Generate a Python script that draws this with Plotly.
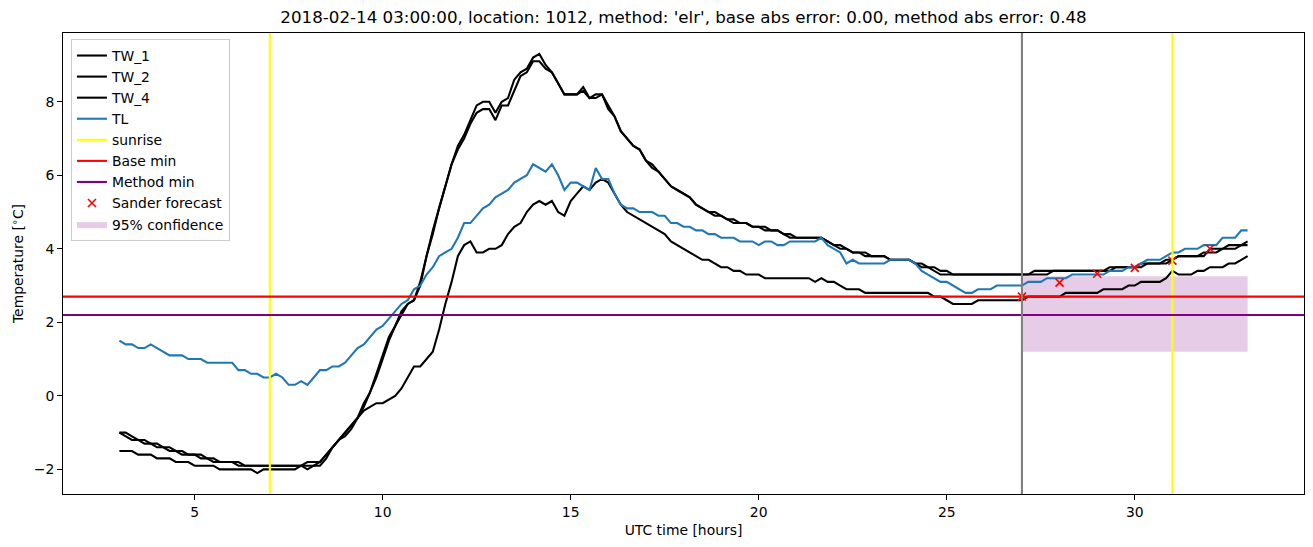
import numpy as np
import plotly.graph_objects as go

# ---------------- data (10-minute samples from 03:00 to 33:00 UTC hours) ----------------
start_hour = 3
end_hour = 33
steps_per_hour = 6
times = [start_hour + i / steps_per_hour for i in range((end_hour - start_hour) * steps_per_hour + 1)]

tw_1 = [
    -1.0, -1.1, -1.2, -1.2, -1.3, -1.3,   # 3
    -1.4, -1.4, -1.5, -1.5, -1.6, -1.6,   # 4
    -1.6, -1.7, -1.7, -1.8, -1.8, -1.8,   # 5
    -1.8, -1.9, -1.9, -1.9, -1.9, -1.9,   # 6
    -1.9, -1.9, -1.9, -1.9, -1.9, -1.9,   # 7
    -1.9, -1.9, -1.8, -1.6, -1.4, -1.2,   # 8
    -1.1, -0.9, -0.6, -0.3, 0.1, 0.5,     # 9
    1.0, 1.5, 1.9, 2.2, 2.5, 2.6,         # 10
    3.0, 3.8, 4.4, 5.1, 5.7, 6.3,         # 11
    6.8, 7.1, 7.5, 7.9, 8.0, 8.0,         # 12
    7.7, 8.0, 8.1, 8.6, 8.8, 8.9,         # 13
    9.2, 9.3, 9.0, 8.8, 8.5, 8.2,         # 14
    8.2, 8.2, 8.4, 8.1, 8.1, 8.2,         # 15
    7.9, 7.6, 7.2, 7.0, 6.8, 6.7,         # 16
    6.4, 6.3, 6.1, 5.9, 5.7, 5.6,         # 17
    5.5, 5.4, 5.2, 5.1, 5.0, 5.0,         # 18
    4.9, 4.8, 4.8, 4.7, 4.7, 4.6,         # 19
    4.6, 4.6, 4.5, 4.5, 4.4, 4.4,         # 20
    4.3, 4.3, 4.3, 4.3, 4.3, 4.2,         # 21
    4.1, 4.1, 4.0, 3.9, 3.9, 3.9,         # 22
    3.8, 3.8, 3.8, 3.7, 3.7, 3.7,         # 23
    3.7, 3.6, 3.6, 3.5, 3.5, 3.4,         # 24
    3.4, 3.3, 3.3, 3.3, 3.3, 3.3,         # 25
    3.3, 3.3, 3.3, 3.3, 3.3, 3.3,         # 26
    3.3, 3.3, 3.4, 3.4, 3.4, 3.4,         # 27
    3.4, 3.4, 3.4, 3.4, 3.4, 3.4,         # 28
    3.4, 3.4, 3.4, 3.5, 3.5, 3.5,         # 29
    3.5, 3.5, 3.6, 3.6, 3.6, 3.6,         # 30
    3.7, 3.8, 3.8, 3.8, 3.8, 3.8,         # 31
    4.0, 4.0, 4.0, 4.1, 4.1, 4.1,         # 32
    4.2,                                  # 33
]

tw_2 = [
    -1.0, -1.0, -1.1, -1.2, -1.2, -1.3,   # 3
    -1.3, -1.4, -1.4, -1.5, -1.5, -1.6,   # 4
    -1.6, -1.6, -1.7, -1.7, -1.8, -1.8,   # 5
    -1.8, -1.8, -1.9, -1.9, -1.9, -1.9,   # 6
    -1.9, -1.9, -1.9, -1.9, -1.9, -1.9,   # 7
    -1.8, -1.8, -1.8, -1.6, -1.4, -1.2,   # 8
    -1.0, -0.8, -0.6, -0.2, 0.1, 0.6,     # 9
    1.1, 1.6, 1.9, 2.3, 2.5, 2.6,         # 10
    3.1, 3.8, 4.5, 5.1, 5.7, 6.3,         # 11
    6.7, 7.0, 7.4, 7.7, 7.8, 7.8,         # 12
    7.5, 7.9, 7.9, 8.3, 8.7, 8.8,         # 13
    9.1, 9.1, 8.9, 8.8, 8.5, 8.2,         # 14
    8.2, 8.2, 8.3, 8.1, 8.2, 8.2,         # 15
    7.8, 7.6, 7.2, 7.0, 6.8, 6.7,         # 16
    6.4, 6.2, 6.1, 5.9, 5.7, 5.6,         # 17
    5.5, 5.4, 5.2, 5.1, 5.0, 4.9,         # 18
    4.9, 4.8, 4.7, 4.7, 4.7, 4.6,         # 19
    4.6, 4.5, 4.5, 4.5, 4.4, 4.3,         # 20
    4.3, 4.3, 4.3, 4.3, 4.3, 4.2,         # 21
    4.1, 4.0, 4.0, 3.9, 3.9, 3.8,         # 22
    3.8, 3.8, 3.8, 3.7, 3.7, 3.7,         # 23
    3.7, 3.6, 3.5, 3.5, 3.4, 3.3,         # 24
    3.3, 3.3, 3.3, 3.3, 3.3, 3.3,         # 25
    3.3, 3.3, 3.3, 3.3, 3.3, 3.3,         # 26
    3.3, 3.3, 3.3, 3.3, 3.3, 3.4,         # 27
    3.4, 3.4, 3.4, 3.4, 3.4, 3.4,         # 28
    3.4, 3.4, 3.5, 3.5, 3.5, 3.5,         # 29
    3.5, 3.6, 3.6, 3.6, 3.6, 3.7,         # 30
    3.7, 3.8, 3.8, 3.8, 3.8, 3.9,         # 31
    3.9, 3.9, 4.0, 4.0, 4.0, 4.1,         # 32
    4.1,                                  # 33
]

tw_4 = [
    -1.5, -1.5, -1.5, -1.6, -1.6, -1.6,   # 3
    -1.7, -1.7, -1.7, -1.8, -1.8, -1.8,   # 4
    -1.9, -1.9, -1.9, -1.9, -2.0, -2.0,   # 5
    -2.0, -2.0, -2.0, -2.0, -2.1, -2.0,   # 6
    -2.0, -2.0, -2.0, -2.0, -2.0, -1.9,   # 7
    -2.0, -1.9, -1.9, -1.7, -1.4, -1.2,   # 8
    -1.0, -0.8, -0.6, -0.4, -0.3, -0.2,   # 9
    -0.2, -0.1, 0.0, 0.2, 0.5, 0.8,       # 10
    0.8, 1.0, 1.2, 1.8, 2.5, 3.1,         # 11
    3.8, 4.1, 4.2, 3.9, 3.9, 4.0,         # 12
    4.0, 4.1, 4.4, 4.6, 4.7, 5.0,         # 13
    5.2, 5.3, 5.2, 5.3, 5.0, 4.9,         # 14
    5.3, 5.5, 5.7, 5.6, 5.8, 5.9,         # 15
    5.8, 5.5, 5.2, 5.0, 4.9, 4.8,         # 16
    4.7, 4.6, 4.5, 4.4, 4.2, 4.1,         # 17
    4.0, 3.9, 3.8, 3.7, 3.7, 3.6,         # 18
    3.5, 3.5, 3.4, 3.4, 3.3, 3.3,         # 19
    3.3, 3.2, 3.2, 3.2, 3.2, 3.2,         # 20
    3.2, 3.2, 3.2, 3.1, 3.2, 3.1,         # 21
    3.1, 3.0, 2.9, 2.9, 2.9, 2.8,         # 22
    2.8, 2.8, 2.8, 2.8, 2.8, 2.8,         # 23
    2.8, 2.8, 2.8, 2.8, 2.7, 2.7,         # 24
    2.6, 2.5, 2.5, 2.5, 2.5, 2.6,         # 25
    2.6, 2.6, 2.6, 2.6, 2.6, 2.6,         # 26
    2.6, 2.7, 2.7, 2.7, 2.7, 2.7,         # 27
    2.7, 2.8, 2.8, 2.8, 2.8, 2.8,         # 28
    2.8, 2.9, 2.9, 2.9, 2.9, 3.0,         # 29
    3.0, 3.1, 3.1, 3.1, 3.1, 3.2,         # 30
    3.4, 3.3, 3.3, 3.3, 3.4, 3.4,         # 31
    3.5, 3.5, 3.5, 3.6, 3.6, 3.7,         # 32
    3.8,                                  # 33
]

tl = [
    1.5, 1.4, 1.4, 1.3, 1.3, 1.4,         # 3
    1.3, 1.2, 1.1, 1.1, 1.1, 1.0,         # 4
    1.0, 1.0, 0.9, 0.9, 0.9, 0.9,         # 5
    0.9, 0.7, 0.7, 0.6, 0.6, 0.5,         # 6
    0.5, 0.6, 0.5, 0.3, 0.3, 0.4,         # 7
    0.3, 0.5, 0.7, 0.7, 0.8, 0.8,         # 8
    0.9, 1.1, 1.3, 1.4, 1.6, 1.8,         # 9
    1.9, 2.1, 2.3, 2.5, 2.6, 2.9,         # 10
    3.0, 3.3, 3.5, 3.8, 3.9, 4.0,         # 11
    4.3, 4.7, 4.7, 4.9, 5.1, 5.2,         # 12
    5.4, 5.5, 5.6, 5.8, 5.9, 6.0,         # 13
    6.3, 6.2, 6.1, 6.3, 6.0, 5.6,         # 14
    5.8, 5.8, 5.7, 5.6, 6.2, 5.9,         # 15
    5.9, 5.5, 5.2, 5.1, 5.1, 5.0,         # 16
    5.0, 5.0, 4.9, 4.9, 4.7, 4.7,         # 17
    4.6, 4.6, 4.5, 4.5, 4.4, 4.4,         # 18
    4.3, 4.3, 4.3, 4.2, 4.2, 4.2,         # 19
    4.1, 4.2, 4.2, 4.1, 4.1, 4.2,         # 20
    4.2, 4.2, 4.2, 4.2, 4.3, 4.1,         # 21
    4.0, 3.9, 3.6, 3.7, 3.6, 3.6,         # 22
    3.6, 3.6, 3.6, 3.7, 3.7, 3.7,         # 23
    3.7, 3.6, 3.4, 3.3, 3.2, 3.1,         # 24
    3.1, 3.0, 2.9, 2.8, 2.8, 2.9,         # 25
    2.9, 2.9, 3.0, 3.0, 3.0, 3.0,         # 26
    3.0, 3.1, 3.1, 3.1, 3.2, 3.2,         # 27
    3.2, 3.2, 3.3, 3.3, 3.3, 3.3,         # 28
    3.3, 3.3, 3.4, 3.4, 3.4, 3.5,         # 29
    3.5, 3.6, 3.7, 3.7, 3.7, 3.8,         # 30
    3.9, 3.9, 4.0, 4.0, 4.0, 4.1,         # 31
    4.1, 4.1, 4.3, 4.3, 4.3, 4.5,         # 32
    4.5,                                  # 33
]

sunrise_times = [7, 31]
forecast_start = 27
base_min = 2.7
method_min = 2.2

forecast_times = [27, 28, 29, 30, 31, 32]
forecast_values = [2.7, 3.08, 3.32, 3.48, 3.68, 4.0]

conf_times = [27, 33]
conf_lower = [1.2, 1.2]
conf_upper = [3.25, 3.25]

title_text = ("2018-02-14 03:00:00, location: 1012, method: 'elr', "
              "base abs error: 0.00, method abs error: 0.48")

x_ticks = [5, 10, 15, 20, 25, 30]
y_ticks = [-2, 0, 2, 4, 6, 8]

# ---------------- styling ----------------
FONT = "DejaVu Sans"
LW = 2.08
BLUE = "#1f77b4"

fig = go.Figure()

# confidence band (drawn first so lines sit on top)
fig.add_trace(go.Scatter(x=conf_times, y=conf_lower, mode="lines",
                         line=dict(width=0, color="rgba(128,0,128,0)"),
                         showlegend=False, hoverinfo="skip"))
fig.add_trace(go.Scatter(x=conf_times, y=conf_upper, mode="lines",
                         line=dict(width=0, color="rgba(128,0,128,0)"),
                         fill="tonexty", fillcolor="rgba(128,0,128,0.2)",
                         name="95% confidence", legendrank=9))

for name, vals, rank in [("TW_1", tw_1, 1), ("TW_2", tw_2, 2), ("TW_4", tw_4, 3)]:
    fig.add_trace(go.Scatter(x=times, y=vals, mode="lines", name=name,
                             line=dict(color="black", width=LW), legendrank=rank))
fig.add_trace(go.Scatter(x=times, y=tl, mode="lines", name="TL",
                         line=dict(color=BLUE, width=LW), legendrank=4))

fig.add_trace(go.Scatter(x=forecast_times, y=forecast_values, mode="markers",
                         name="Sander forecast", legendrank=8,
                         marker=dict(symbol="x-thin", size=8, color="red",
                                     line=dict(color="red", width=1.6))))

# reference lines spanning the whole axes
shapes = []
for i, t in enumerate(sunrise_times):
    shapes.append(dict(type="line", xref="x", yref="paper", x0=t, x1=t, y0=0, y1=1,
                       line=dict(color="yellow", width=LW), layer="above",
                       name="sunrise", showlegend=(i == 0), legendrank=5))
shapes.append(dict(type="line", xref="paper", yref="y", x0=0, x1=1, y0=base_min, y1=base_min,
                   line=dict(color="red", width=LW), layer="above",
                   name="Base min", showlegend=True, legendrank=6))
shapes.append(dict(type="line", xref="paper", yref="y", x0=0, x1=1, y0=method_min, y1=method_min,
                   line=dict(color="purple", width=LW), layer="above",
                   name="Method min", showlegend=True, legendrank=7))
shapes.append(dict(type="line", xref="x", yref="paper", x0=forecast_start, x1=forecast_start,
                   y0=0, y1=1, line=dict(color="gray", width=LW), layer="above",
                   showlegend=False))

# axis ranges with 5% margins like matplotlib
all_y = tw_1 + tw_2 + tw_4 + tl
ymin, ymax = min(all_y), max(all_y)
ypad = 0.05 * (ymax - ymin)
xmin, xmax = min(times), max(times)
xpad = 0.05 * (xmax - xmin)

axis_common = dict(showline=True, mirror=True, linecolor="black", linewidth=1.1,
                   ticks="outside", ticklen=4.9, tickwidth=1.1, tickcolor="black",
                   showgrid=False, zeroline=False,
                   tickfont=dict(family=FONT, size=13.9, color="black"))

fig.update_layout(
    width=1313, height=547,
    margin=dict(l=63, r=9, t=33, b=53),
    paper_bgcolor="white", plot_bgcolor="white",
    font=dict(family=FONT, size=13.9, color="black"),
    shapes=shapes,
    title=dict(text=title_text, x=0.5, xref="paper", xanchor="center",
               y=1 - 17 / 547, yref="container", yanchor="middle",
               font=dict(family=FONT, size=16.7, color="black")),
    xaxis=dict(range=[xmin - xpad, xmax + xpad], tickvals=x_ticks,
               title=dict(text="UTC time [hours]", standoff=6,
                          font=dict(family=FONT, size=13.9, color="black")),
               **axis_common),
    yaxis=dict(range=[ymin - ypad, ymax + ypad], tickvals=y_ticks,
               title=dict(text="Temperature [<sup>∘</sup>C]", standoff=6,
                          font=dict(family=FONT, size=13.9, color="black")),
               **axis_common),
    legend=dict(x=0.0064, y=0.987, xanchor="left", yanchor="top",
                bgcolor="white", bordercolor="#cccccc", borderwidth=1,
                font=dict(family=FONT, size=13.9, color="black"),
                traceorder="normal"),
)

fig.write_html("out.html")
